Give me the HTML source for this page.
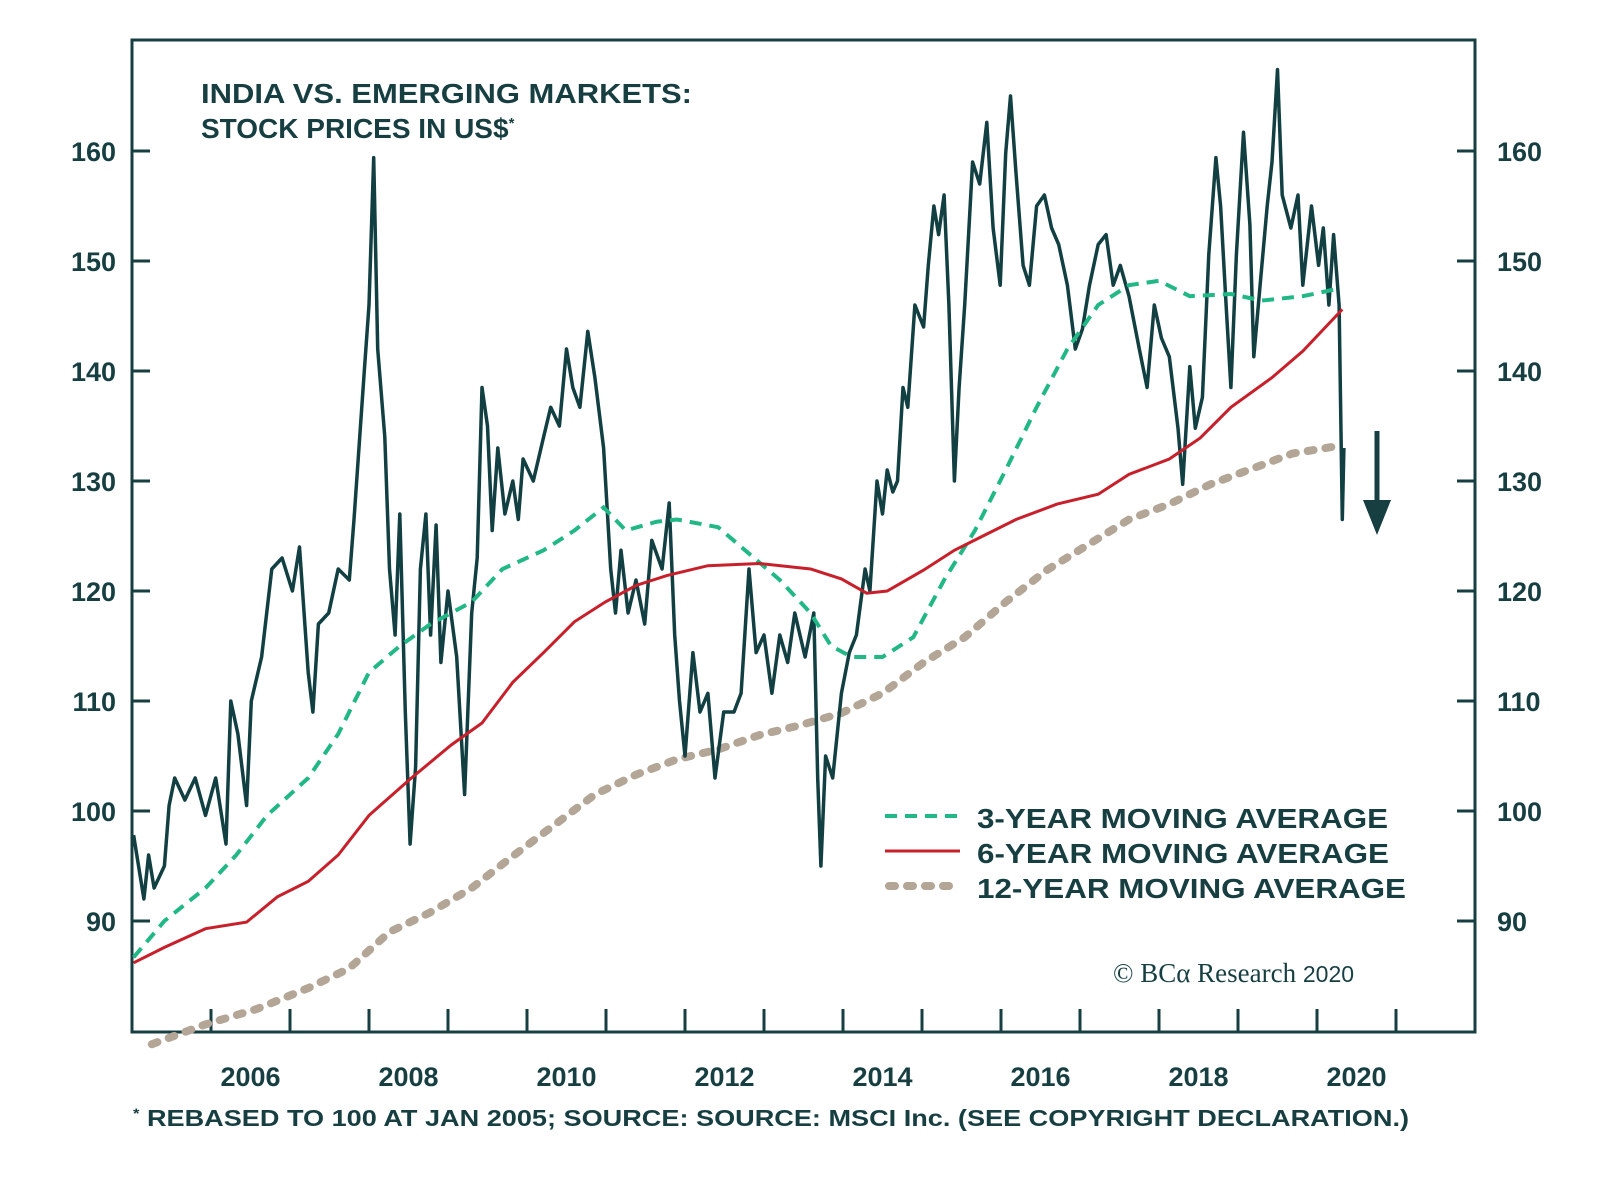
<!DOCTYPE html>
<html><head><meta charset="utf-8"><title>India vs Emerging Markets</title>
<style>
html,body{margin:0;padding:0;background:#fff;}
svg{display:block;}
text{font-family:"Liberation Sans",Arial,sans-serif;fill:#173f42;font-weight:bold;}
text.lg{font-weight:600;}
text.cr{font-weight:normal;font-family:"Liberation Serif",serif;}
</style></head>
<body>
<svg id="chart" width="1600" height="1182" viewBox="0 0 1600 1182" xmlns="http://www.w3.org/2000/svg">
<rect x="132" y="40" width="1343" height="992" fill="none" stroke="#173f42" stroke-width="3"/>
<g id="ticks"></g>
<g id="series"></g>
<text x="201" y="103" font-size="28" textLength="491" lengthAdjust="spacingAndGlyphs">INDIA VS. EMERGING MARKETS:</text>
<text x="201" y="138" font-size="28">STOCK PRICES IN US$<tspan font-size="15" dy="-10">*</tspan></text>
<g>
 <line x1="885" y1="816" x2="960" y2="816" stroke="#22b886" stroke-width="4" stroke-dasharray="12 8"/>
 <text class="lg" x="977" y="828" font-size="28" textLength="411" lengthAdjust="spacingAndGlyphs">3-YEAR MOVING AVERAGE</text>
 <line x1="885" y1="851" x2="960" y2="851" stroke="#c8202b" stroke-width="3"/>
 <text class="lg" x="977" y="863" font-size="28" textLength="412" lengthAdjust="spacingAndGlyphs">6-YEAR MOVING AVERAGE</text>
 <line x1="889" y1="886" x2="958" y2="886" stroke="#b3a697" stroke-width="8" stroke-linecap="round" stroke-dasharray="6 12"/>
 <text class="lg" x="977" y="898" font-size="28" textLength="429" lengthAdjust="spacingAndGlyphs">12-YEAR MOVING AVERAGE</text>
</g>
<text class="cr" x="1113" y="982" font-size="27">© BCα Research <tspan font-family="Liberation Sans" font-size="23">2020</tspan></text>
<g>
 <line x1="1377" y1="431" x2="1377" y2="510" stroke="#173f42" stroke-width="5"/>
 <polygon points="1363,500 1391,500 1377,535" fill="#173f42"/>
</g>
<text x="133" y="1126" font-size="23" textLength="1276" lengthAdjust="spacingAndGlyphs"><tspan font-size="14" dy="-8">*</tspan><tspan dy="8"> REBASED TO 100 AT JAN 2005; SOURCE: SOURCE: MSCI Inc. (SEE COPYRIGHT DECLARATION.)</tspan></text>
</svg>
<script>
const yTicks=[90,100,110,120,130,140,150,160];
const xYears=[2006,2008,2010,2012,2014,2016,2018,2020];
const priceT=[2005.02,2005.15,2005.21,2005.28,2005.41,2005.47,2005.54,2005.67,2005.80,2005.93,2006.06,2006.19,2006.25,2006.34,2006.45,2006.51,2006.64,2006.77,2006.90,2007.03,2007.12,2007.23,2007.29,2007.36,2007.49,2007.61,2007.75,2007.81,2007.94,2008.00,2008.06,2008.11,2008.20,2008.26,2008.33,2008.39,2008.46,2008.52,2008.59,2008.65,2008.72,2008.78,2008.85,2008.91,2009.00,2009.11,2009.21,2009.30,2009.37,2009.43,2009.50,2009.56,2009.63,2009.72,2009.82,2009.89,2009.95,2010.08,2010.21,2010.30,2010.41,2010.50,2010.58,2010.67,2010.77,2010.86,2010.97,2011.06,2011.12,2011.19,2011.28,2011.38,2011.49,2011.58,2011.71,2011.80,2011.87,2011.93,2012.00,2012.10,2012.19,2012.29,2012.38,2012.49,2012.62,2012.71,2012.81,2012.90,2013.00,2013.10,2013.20,2013.30,2013.39,2013.52,2013.63,2013.68,2013.72,2013.78,2013.87,2013.98,2014.08,2014.17,2014.28,2014.34,2014.43,2014.50,2014.56,2014.63,2014.69,2014.76,2014.82,2014.91,2015.02,2015.08,2015.15,2015.21,2015.28,2015.34,2015.41,2015.47,2015.54,2015.64,2015.73,2015.82,2015.90,2015.99,2016.06,2016.12,2016.19,2016.28,2016.36,2016.45,2016.55,2016.64,2016.73,2016.84,2016.94,2017.03,2017.12,2017.23,2017.33,2017.42,2017.51,2017.62,2017.75,2017.85,2017.94,2018.03,2018.13,2018.24,2018.30,2018.39,2018.46,2018.55,2018.63,2018.72,2018.78,2018.85,2018.91,2018.98,2019.07,2019.15,2019.20,2019.28,2019.37,2019.43,2019.50,2019.56,2019.67,2019.76,2019.82,2019.93,2020.02,2020.08,2020.15,2020.21,2020.28,2020.32,2020.34];
const priceV=[97.8,92,96,93,95,100.5,103,101,103,99.6,103,97,110,107,100.5,110,114,122,123,120,124,112.6,109,117,118,122,121,126.5,140,146,159.4,142,134,122,116,127,109,97,104,122,127,116,126,113.5,120,114,101.5,118,123,138.5,135,125.5,133,127,130,126.5,132,130,134,136.7,135,142,138.5,136.7,143.6,139.4,133,122,118,123.7,118,121,117,124.6,122,128,116,110,105,114.4,109,110.7,103,109,109,110.7,122,114.4,116,110.7,116,113.5,118,114,118,103,95,105,103,110.7,114.4,116,122,120,130,127,131,129,130,138.5,136.7,146,144,149.6,155,152.4,156,146,130,138.5,146,159,157,162.6,153,147.8,159.8,165,158,149.6,147.8,155,156,153,151.5,147.8,142,143.8,147.8,151.5,152.4,147.8,149.6,146.8,142,138.5,146,143,141.3,134.8,129.7,140.4,134.8,137.6,150.6,159.4,155,146,138.5,150.6,161.7,153.3,141.3,147.8,155,159,167.4,156,153,156,147.8,155,149.6,153,146,152.4,146,126.5,133];
const ma3T=[2005.02,2005.41,2005.93,2006.32,2006.71,2007.23,2007.61,2008.00,2008.39,2008.78,2009.30,2009.69,2010.21,2010.60,2010.97,2011.25,2011.64,2011.90,2012.42,2012.68,2013.20,2013.59,2013.85,2014.11,2014.50,2014.89,2015.28,2015.67,2016.06,2016.45,2016.84,2017.23,2017.62,2018.00,2018.39,2018.91,2019.30,2019.82,2020.28];
const ma3V=[86.7,90,93,96,99.6,103,107,112.6,115,117,119,122,123.7,125.5,127.6,125.5,126.3,126.5,125.8,124.2,121,118,115,114,114,115.8,121,125.5,131,136.7,142,146,147.8,148.2,146.8,147,146.4,146.8,147.5];
const ma6T=[2005.02,2005.41,2005.93,2006.45,2006.84,2007.23,2007.61,2008.00,2008.52,2009.04,2009.43,2009.82,2010.21,2010.60,2010.99,2011.38,2011.77,2012.29,2012.94,2013.59,2013.98,2014.30,2014.56,2015.02,2015.41,2015.80,2016.19,2016.71,2017.23,2017.62,2018.13,2018.52,2018.91,2019.43,2019.82,2020.32];
const ma6V=[86.2,87.6,89.3,89.9,92.2,93.6,96,99.6,102.9,106,108,111.7,114.4,117.2,119,120.5,121.4,122.3,122.5,122,121.1,119.8,120,121.9,123.7,125.1,126.5,127.9,128.8,130.6,132,133.9,136.7,139.4,141.8,145.6];
const ma12T=[2005.25,2005.93,2006.58,2007.23,2007.75,2008.26,2008.78,2009.30,2009.82,2010.34,2010.86,2011.38,2011.90,2012.42,2012.94,2013.46,2013.98,2014.50,2015.02,2015.54,2016.06,2016.58,2017.10,2017.62,2018.13,2018.65,2019.17,2019.69,2020.28];
const ma12V=[78.8,80.6,82,83.9,85.7,89,90.8,93,95.9,98.7,101.5,103.3,104.7,105.6,106.9,107.8,108.9,110.7,113.5,115.8,119,121.9,124.2,126.5,127.9,129.7,131.1,132.5,133.2];

const NS='http://www.w3.org/2000/svg';
function xs(t){return 211+(t-2006)*79;}
function ys(v){return 921-(v-90)*11;}
function mk(tag,attrs,parent){const e=document.createElementNS(NS,tag);for(const k in attrs)e.setAttribute(k,attrs[k]);parent.appendChild(e);return e;}
const ticks=document.getElementById('ticks');
const svg=document.getElementById('chart');
yTicks.forEach(v=>{
  const l=mk('line',{x1:132,x2:150,y1:ys(v),y2:ys(v),stroke:'#173f42','stroke-width':3},ticks);
  
  
  const r=mk('line',{x1:1457,x2:1475,y1:ys(v),y2:ys(v),stroke:'#173f42','stroke-width':3},ticks);
  
  
  const tl=mk('text',{x:116,y:ys(v)+10,'text-anchor':'end','font-size':27},svg);
  tl.textContent=v;
  
  
  const tr=mk('text',{x:1497,y:ys(v)+10,'font-size':27},svg);
  tr.textContent=v;
  
  
});
for(let yr=2006;yr<=2021;yr++){
  const l=mk('line',{x1:xs(yr),x2:xs(yr),y1:1009,y2:1032,stroke:'#173f42','stroke-width':3},ticks);
  
  
}
xYears.forEach(yr=>{
  const t=mk('text',{x:xs(yr+0.5),y:1086,'text-anchor':'middle','font-size':27},svg);
  t.textContent=yr;
  
  
});
const series=document.getElementById('series');
function pts(T,V){return T.map((t,i)=>xs(t).toFixed(1)+','+ys(V[i]).toFixed(1)).join(' ');}
const m12=mk('polyline',{points:pts(ma12T,ma12V),fill:'none',stroke:'#b3a697','stroke-width':8,'stroke-linecap':'round','stroke-dasharray':'6 12'},series);


const pr=mk('polyline',{points:pts(priceT,priceV),fill:'none',stroke:'#123f42','stroke-width':3.5,'stroke-linejoin':'round'},series);


const m3=mk('polyline',{points:pts(ma3T,ma3V),fill:'none',stroke:'#22b886','stroke-width':4,'stroke-dasharray':'12 8'},series);


const m6=mk('polyline',{points:pts(ma6T,ma6V),fill:'none',stroke:'#c8202b','stroke-width':3},series);


</script>
</body></html>
